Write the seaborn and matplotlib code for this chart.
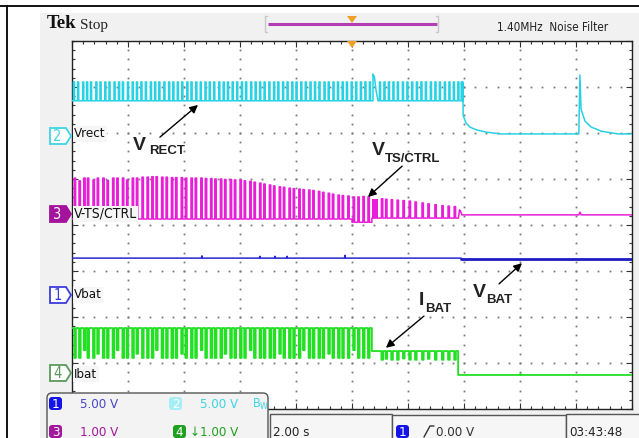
import numpy as np
import pandas as pd
import matplotlib
matplotlib.use("Agg")
import matplotlib.pyplot as plt
from matplotlib.patches import Rectangle, Polygon, FancyBboxPatch
from matplotlib import font_manager
import seaborn as sns

# ---------------- data (time in s, 2 s/div; amplitude in screen divisions) ----------------
packet_t1 = [0.08, 0.25, 0.42, 0.55, 0.75, 0.9, 1.1, 1.25, 1.45, 1.6,
             1.8, 1.95, 2.15, 2.3, 2.5, 2.68, 2.85, 3.0, 3.2, 3.36,
             3.55, 3.7, 3.9, 4.05, 4.25, 4.4, 4.6, 4.76, 4.95, 5.1,
             5.3, 5.45, 5.65, 5.8, 6.0, 6.15, 6.35, 6.5, 6.7, 6.85,
             7.05, 7.2, 7.4, 7.55, 7.75, 7.9, 8.1, 8.25, 8.45, 8.6,
             8.8, 8.95, 9.15, 9.3, 9.5, 9.65, 9.85, 10.04, 10.21, 10.39,
             10.57]
ts_tops1 = [5.02, 4.96, 5.02, 5.02, 4.98, 5.02, 5.02, 4.97, 5.02, 5.02,
            5.02, 4.98, 5.02, 5.02, 5.04, 5.04, 5.05, 5.05, 5.04, 5.04,
            5.03, 5.03, 5.03, 5.02, 5.02, 5.02, 5.02, 5.01, 5.01, 5.0,
            5.0, 4.99, 4.99, 4.98, 4.98, 4.96, 4.95, 4.93, 4.91, 4.89,
            4.87, 4.85, 4.83, 4.82, 4.8, 4.79, 4.78, 4.77, 4.76, 4.75,
            4.73, 4.71, 4.69, 4.67, 4.65, 4.64, 4.63, 4.61, 4.61, 4.62,
            4.61]
ibat_dips1 = [1.11, 1.11, 1.28, 1.11, 1.11, 1.2, 1.11, 1.11, 1.11, 1.28,
              1.11, 1.11, 1.11, 1.2, 1.11, 1.11, 1.11, 1.28, 1.11, 1.11,
              1.11, 1.11, 1.2, 1.11, 1.11, 1.11, 1.28, 1.11, 1.11, 1.11,
              1.11, 1.2, 1.11, 1.11, 1.11, 1.11, 1.28, 1.11, 1.11, 1.11,
              1.11, 1.11, 1.2, 1.11, 1.11, 1.11, 1.11, 1.28, 1.11, 1.11,
              1.11, 1.11, 1.2, 1.11, 1.11, 1.11, 1.11, 1.28, 1.11, 1.11,
              1.11]
packet_t2 = [11.05, 11.2, 11.4, 11.61, 11.82, 12.04, 12.25, 12.5, 12.71, 12.96, 13.21, 13.43, 13.65]
ts_tops2 = [4.57, 4.56, 4.55, 4.54, 4.53, 4.52, 4.5, 4.48, 4.46, 4.44, 4.42, 4.41, 4.4]
ibat_dips2 = [1.07, 1.09, 1.07, 1.07, 1.1, 1.07, 1.07, 1.07, 1.09, 1.07, 1.07, 1.07, 1.07]

vrect_t1 = [0.05, 0.2, 0.38, 0.52, 0.66, 0.85, 1.0, 1.17, 1.32, 1.5, 1.66, 1.8, 1.98, 2.15,
            2.3, 2.46, 2.62, 2.8, 2.95, 3.1, 3.28, 3.45, 3.6, 3.76, 3.92, 4.1, 4.25, 4.42,
            4.58, 4.75, 4.9, 5.06, 5.24, 5.4, 5.55, 5.72, 5.88, 6.05, 6.2, 6.38, 6.54, 6.7,
            6.86, 7.03, 7.2, 7.35, 7.52, 7.68, 7.85, 8.0, 8.17, 8.33, 8.5, 8.66, 8.82, 9.0,
            9.15, 9.32, 9.48, 9.65, 9.8, 9.97, 10.13, 10.3, 10.46, 10.62]
vrect_t2 = [10.98, 11.14, 11.3, 11.46, 11.62, 11.8, 11.96, 12.13, 12.3, 12.46, 12.62,
            12.8, 12.96, 13.12, 13.3, 13.46, 13.62, 13.78, 13.9]
vrect_base = 6.70
vrect_top = 7.11
vrect_bump_t = [10.75, 10.75, 10.80, 10.86, 10.93]
vrect_bump_y = [6.70, 7.28, 7.22, 6.92, 6.70]
vrect_off_t = [13.96, 13.96, 13.97, 14.07, 14.21, 14.43, 14.79, 15.3, 18.1, 18.14, 18.18, 18.32, 18.54, 18.9, 19.5, 20.0]
vrect_off_y = [6.70, 7.11, 6.38, 6.22, 6.13, 6.07, 6.02, 5.98, 5.98, 7.26, 6.52, 6.26, 6.13, 6.04, 5.98, 5.98]

ts_base1 = 4.13
ts_base_mid = 4.06
ts_base2 = 4.15
ts_block_t = [10.71, 10.93]
ts_block_lo = [4.15, 4.15]
ts_block_hi = [4.57, 4.57]
ts_off_t = [13.80, 13.84, 13.88, 13.92, 18.1, 18.14, 18.18, 20.0]
ts_off_y = [4.15, 4.33, 4.30, 4.22, 4.22, 4.28, 4.22, 4.22]

vbat_t = [0, 4.62, 4.64, 4.66, 6.69, 6.71, 6.73, 7.23, 7.25, 7.27, 7.66, 7.68, 7.7, 9.73, 9.75, 9.77, 13.9]
vbat_y = [3.28, 3.28, 3.33, 3.28, 3.28, 3.32, 3.28, 3.28, 3.32, 3.28, 3.28, 3.32, 3.28, 3.28, 3.34, 3.28, 3.28]
vbat_off_t = [13.9, 20.0]
vbat_off_y = [3.26, 3.26]

ibat_hi1 = 1.76
ibat_hi2 = 1.26
ibat_step_t = 10.71
ibat_off_t = [13.79, 13.79, 16.0, 16.02, 16.04, 20.0]
ibat_off_y = [1.26, 0.74, 0.74, 0.77, 0.74, 0.74]

channel_labels = ["Vrect", "V-TS/CTRL", "Vbat", "Ibat"]
scale_texts = ["5.00 V", "5.00 V", "1.00 V", "\u21931.00 V"]
timebase_text = "2.00 s"
trigger_text = "0.00 V"
clock_text = "03:43:48"
header_right = "1.40MHz  Noise Filter"

CYAN = "#27d2e4"
MAG = "#e81ed8"
BLUE = "#2626d6"
GREEN = "#22e022"


def pulse_train(times, base, levels, width, t0, t1):
    t, y = [t0], [base]
    for ti, lv in zip(times, levels):
        t += [ti, ti, ti + width, ti + width]
        y += [base, lv, lv, base]
    t.append(t1)
    y.append(base)
    return t, y


sns.set_theme(style="white")
plt.rcParams["font.family"] = ["DejaVu Sans"]

_cond = [f for f in font_manager.fontManager.ttflist
         if f.name == "DejaVu Sans" and "Condensed" in f.fname
         and "Bold" not in f.fname and "Oblique" not in f.fname]
if _cond:
    NARROW = dict(fontproperties=font_manager.FontProperties(fname=_cond[0].fname))
    NSCALE = 0.95
else:
    NARROW = dict(family=["Liberation Sans", "DejaVu Sans"], fontstretch="condensed")
    NSCALE = 0.88

W, H = 639, 438
fig = plt.figure(figsize=(W / 100, H / 100), dpi=100)
fig.patch.set_facecolor("white")


def ntext(axx, x, y, s, size, **kw):
    if "fontproperties" in NARROW:
        fp = NARROW["fontproperties"].copy()
        fp.set_size(size * NSCALE)
        return axx.text(x, y, s, fontproperties=fp, **kw)
    return axx.text(x, y, s, fontsize=size * NSCALE, **NARROW, **kw)


# background layer (pixel coordinates)
bg = fig.add_axes([0, 0, 1, 1], zorder=0)
bg.set_xlim(0, W); bg.set_ylim(H, 0); bg.axis("off")
bg.add_patch(Rectangle((40, 13), W - 40, H - 13, fc="#f1f1f1", ec="none"))
bg.plot([0, W], [6, 6], color="black", lw=1.3)
bg.plot([7, 7], [6, H], color="black", lw=1.3)
bg.text(47, 28, "Tek", fontsize=13.5, fontweight="bold", family="Liberation Serif", color="#111111", va="baseline")
bg.text(80, 29, "Stop", fontsize=11, family="Liberation Serif", color="#222222", va="baseline")
ntext(bg, 497, 31, header_right, 8.8, color="#222222", va="baseline")
bg.plot([268, 437], [24, 24], color="#b43cb4", lw=2.2, solid_capstyle="butt")
bg.plot([267, 265, 265, 267], [16, 16, 32, 32], color="#c8c8c8", lw=1)
bg.plot([436, 438, 438, 436], [16, 16, 32, 32], color="#c8c8c8", lw=1)
bg.add_patch(Polygon([(347, 16), (357, 16), (352, 23)], closed=True, fc="#f0a028", ec="none"))

# graticule / trace axes
ax = fig.add_axes([72 / W, 1 - 409 / H, 560 / W, 368 / H], zorder=2)
ax.set_facecolor("white")
ax.set_xlim(0, 20); ax.set_ylim(0, 8)

for k in range(0, 21, 2):
    yy = np.arange(0, 8.01, 0.2)
    ax.plot(np.full_like(yy, k), yy, ls="none", marker="s", ms=1.3, mew=0, color="#7a7a7a", zorder=1)
for k in range(0, 9):
    xx = np.arange(0, 20.01, 0.4)
    ax.plot(xx, np.full_like(xx, k), ls="none", marker="s", ms=1.3, mew=0, color="#7a7a7a", zorder=1)

ax.set_xticks(np.arange(0, 21, 2)); ax.set_xticks(np.arange(0, 20.01, 0.4), minor=True)
ax.set_yticks(np.arange(0, 9, 1)); ax.set_yticks(np.arange(0, 8.01, 0.2), minor=True)
ax.tick_params(which="both", direction="in", top=True, right=True, bottom=True, left=True,
               labelbottom=False, labelleft=False, color="#303030", width=0.8)
ax.tick_params(which="major", length=4.5)
ax.tick_params(which="minor", length=2.5)
for s in ax.spines.values():
    s.set_color("#222222"); s.set_linewidth(1.0)


def draw(t, y, color, lw):
    df = pd.DataFrame({"t": t, "y": y})
    sns.lineplot(data=df, x="t", y="y", ax=ax, color=color, lw=lw, estimator=None,
                 sort=False, legend=False, zorder=3)


# Vrect (cyan)
t1, y1 = pulse_train(vrect_t1, vrect_base, [vrect_top] * len(vrect_t1), 0.04, 0.0, vrect_bump_t[0])
t2, y2 = pulse_train(vrect_t2, vrect_base, [vrect_top] * len(vrect_t2), 0.04, vrect_bump_t[-1], vrect_off_t[0])
draw(t1 + vrect_bump_t + t2 + vrect_off_t, y1 + vrect_bump_y + y2 + vrect_off_y, CYAN, 1.1)

# V-TS/CTRL (magenta)
pa = [(t, v) for t, v in zip(packet_t1, ts_tops1) if t < 10.0]
pb = [(t, v) for t, v in zip(packet_t1, ts_tops1) if t >= 10.0]
ta, ya = pulse_train([p[0] for p in pa], ts_base1, [p[1] for p in pa], 0.05, 0.0, 10.0)
tb, yb = pulse_train([p[0] for p in pb], ts_base_mid, [p[1] for p in pb], 0.05, 10.0, ts_block_t[0])
tc, yc = pulse_train(packet_t2, ts_base2, ts_tops2, 0.05, ts_block_t[1], ts_off_t[0])
draw(ta + tb + [ts_block_t[0], ts_block_t[1]] + tc + ts_off_t,
     ya + yb + [ts_base2, ts_base2] + yc + ts_off_y, MAG, 1.1)
ax.fill_between(ts_block_t, ts_block_lo, ts_block_hi, color=MAG, lw=0, zorder=3)

# Vbat (blue)
draw(vbat_t, vbat_y, BLUE, 1.1)
draw(vbat_off_t, vbat_off_y, "#1c1cc0", 2.0)

# Ibat (green)
ga, gya = pulse_train(packet_t1, ibat_hi1, ibat_dips1, 0.06, 0.0, ibat_step_t)
gb, gyb = pulse_train(packet_t2, ibat_hi2, ibat_dips2, 0.06, ibat_step_t, ibat_off_t[0])
draw(ga + gb + ibat_off_t, gya + gyb + ibat_off_y, GREEN, 1.3)
ax.set_xlabel(""); ax.set_ylabel("")

# channel name labels inside graticule
lab_y = [5.98, 4.24, 2.48, 0.76]
lab_size = [10, 10.5, 10, 10]
for name, yv, sz in zip(channel_labels, lab_y, lab_size):
    ntext(ax, 0.07, yv, name, sz, color="#111111", va="center", ha="left",
          zorder=5, bbox=dict(fc="#f6f6f6", ec="none", pad=1.0))

# annotations
ann = dict(arrowstyle="-|>", color="black", lw=1.0, mutation_scale=12, shrinkA=0, shrinkB=0)
big = dict(fontsize=14, fontweight="bold", family="Liberation Sans", color="#222222", zorder=6)
small = dict(fontsize=9.5, fontweight="bold", family="Liberation Sans", color="#222222", zorder=6)
ax.annotate("", xy=(4.5, 6.61), xytext=(3.14, 5.91), arrowprops=ann, zorder=6)
ax.text(2.18, 5.63, "V", **big)
ax.text(2.75, 5.54, "RECT", **small)
ax.annotate("", xy=(10.57, 4.61), xytext=(11.79, 5.28), arrowprops=ann, zorder=6)
ax.text(10.71, 5.52, "V", **big)
ax.text(11.18, 5.37, "TS/CTRL", **small)
ax.annotate("", xy=(11.21, 1.33), xytext=(12.57, 2.02), arrowprops=ann, zorder=6)
ax.text(12.40, 2.26, "I", **big)
ax.text(12.61, 2.11, "BAT", **small)
ax.annotate("", xy=(16.07, 3.17), xytext=(15.25, 2.72), arrowprops=ann, zorder=6)
ax.text(14.32, 2.43, "V", **big)
ax.text(14.78, 2.30, "BAT", **small)

# foreground layer (pixel coordinates)
fg = fig.add_axes([0, 0, 1, 1], zorder=4)
fg.set_xlim(0, W); fg.set_ylim(H, 0); fg.axis("off"); fg.patch.set_alpha(0)

fg.add_patch(Polygon([(347, 41), (357, 41), (352, 48)], closed=True, fc="#f0a028", ec="none"))

markers = [(136, "2", "#3fd4e4", False), (214, "3", "#a3139c", True),
           (295, "1", "#3b3be0", False), (373, "4", "#5a9a5a", False)]
for yc_, num, col, filled in markers:
    fg.add_patch(Polygon([(50, yc_ - 8), (66, yc_ - 8), (71, yc_), (66, yc_ + 8), (50, yc_ + 8)],
                         closed=True, fc=col if filled else "white", ec=col, lw=1.3))
    ntext(fg, 57.5, yc_ + 0.5, num, 11, color="white" if filled else col, ha="center", va="center")

fg.add_patch(FancyBboxPatch((47, 393), 221, 60, boxstyle="round,pad=0,rounding_size=5",
                            fc="#f3f3f3", ec="#555555", lw=1))
fg.add_patch(Rectangle((270, 414), 122, 40, fc="#f6f6f6", ec="#555555", lw=1))
fg.add_patch(Rectangle((392, 415), 174, 40, fc="#f6f6f6", ec="#555555", lw=1))
fg.add_patch(Rectangle((566, 414), 80, 40, fc="#f6f6f6", ec="#555555", lw=1))

chips = [(49, 397, "1", "#1414e6"), (169, 397, "2", "#a6eef6"),
         (49, 425, "3", "#a3189c"), (173, 425, "4", "#1fa01f"), (396, 425, "1", "#1414e6")]
for cx, cy, num, col in chips:
    fg.add_patch(FancyBboxPatch((cx, cy), 13, 13, boxstyle="round,pad=0,rounding_size=3",
                                fc=col, ec="none"))
    ntext(fg, cx + 6.5, cy + 7, num, 10, color="white", ha="center", va="center")

ntext(fg, 80, 404, scale_texts[0], 10, color="#4646c8", va="center")
ntext(fg, 200, 404, scale_texts[1], 10, color="#3fd4e4", va="center")
ntext(fg, 252, 404, r"B$_\mathregular{W}$", 9.5, color="#3fd4e4", va="center")
ntext(fg, 80, 432, scale_texts[2], 10, color="#a3189c", va="center")
ntext(fg, 190, 432, scale_texts[3], 10, color="#1fa01f", va="center")
ntext(fg, 273, 432, timebase_text, 10, color="#222222", va="center")
fg.plot([424, 430, 434], [437, 426, 426], color="#303030", lw=1)
ntext(fg, 436, 432, trigger_text, 10, color="#303030", va="center")
ntext(fg, 569, 432, clock_text, 10, color="#222222", va="center")

fig.savefig("out.png", dpi=100)
